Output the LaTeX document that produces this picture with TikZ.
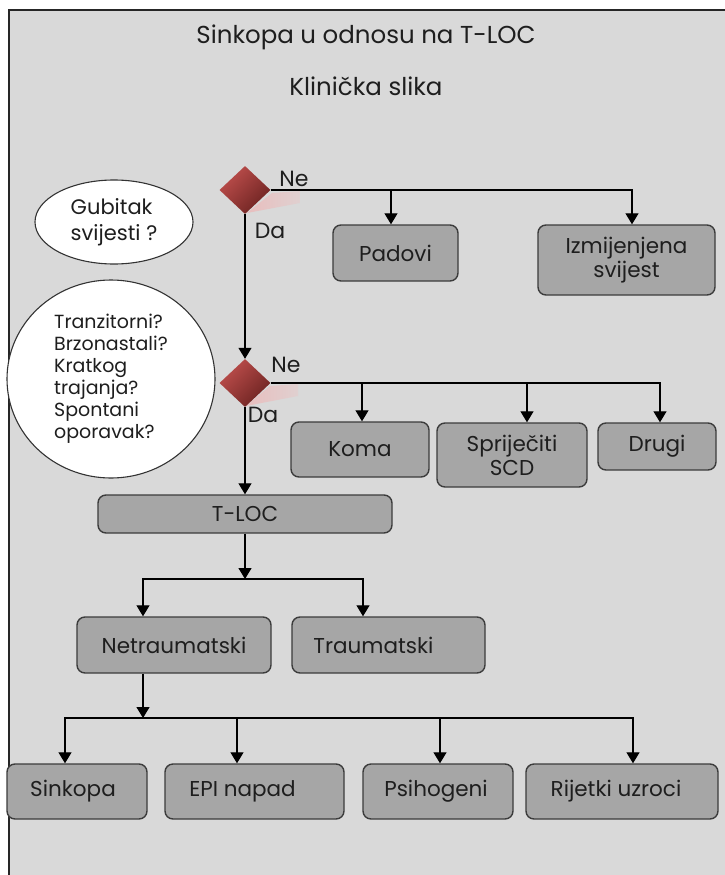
\documentclass[tikz,border=0pt]{standalone}
\usepackage{fontspec}
\setmainfont{Poppins}
\usetikzlibrary{shapes.geometric,arrows.meta,calc}

\definecolor{canvas}{HTML}{D9D9D9}
\definecolor{boxfill}{HTML}{A6A6A6}
\definecolor{boxline}{HTML}{3C3C3C}
\definecolor{ink}{HTML}{1E1E1E}
\definecolor{redlight}{HTML}{BE4E4C}
\definecolor{reddark}{HTML}{6C2321}
\definecolor{pinka}{HTML}{E8BEBE}
\definecolor{pinkb}{HTML}{E0D0D0}

\begin{document}
\begin{tikzpicture}[x=1pt,y=-1pt,
  frame/.style={draw=black!85, line width=1.6pt, fill=canvas},
  heading/.style={text=ink, font=\fontsize{24.5}{27}\selectfont},
  box/.style={draw=boxline, line width=1.4pt, fill=boxfill, rounded corners=8pt,
    inner sep=2pt, align=center, text=ink, font=\fontsize{21.5}{24}\selectfont},
  bubble/.style={ellipse, draw=black!80, line width=1.1pt, fill=white, inner sep=0pt,
    align=left, text=ink},
  decision/.style={diamond, draw=none, inner sep=0pt, minimum width=51pt, minimum height=48pt,
    top color=redlight, bottom color=reddark, shading angle=45},
  tag/.style={text=ink, inner sep=0pt, font=\fontsize{22}{24}\selectfont},
  flow/.style={draw=black, line width=1.3pt},
  arr/.style={flow, -{Triangle[width=13pt,length=11pt]}}
]
\useasboundingbox (0,0) rectangle (725,875);
\clip (0,0) rectangle (725,875);
\draw[frame] (9,10) rectangle (745,895);

% headings
\node[heading] (title) at (366,37) {Sinkopa u odnosu na T-LOC};
\node[heading] (sub) at (366,86) {Klinička slika};

% questions
\node[bubble, minimum width=158pt, minimum height=84pt, font=\fontsize{21}{26}\selectfont]
  (gub) at (114,222) {Gubitak\\svijesti ?};
\node[bubble, minimum width=208pt, minimum height=198pt, font=\fontsize{19}{22}\selectfont]
  (tlq) at (111,379) {Tranzitorni?\\Brzonastali?\\Kratkog\\trajanja?\\Spontani\\oporavak?};

% decision diamonds with their pale shadows
\shade[left color=pinka, right color=pinkb] (272,193) -- (300,191) -- (300,203) -- (247,213) -- cycle;
\shade[left color=pinka, right color=pinkb] (270,386) -- (298,384) -- (298,396) -- (246,406) -- cycle;
\node[decision] (d1) at (245,190) {};
\node[decision] (d2) at (245,383) {};
\node[tag] (ne1) at (294,179) {Ne};
\node[tag] (da1) at (270,231) {Da};
\node[tag] (ne2) at (286,365) {Ne};
\node[tag] (da2) at (263,415) {Da};

% outcome boxes
\node[box, minimum width=125pt, minimum height=56pt] (pad) at (395.5,253) {Padovi};
\node[box, minimum width=177pt, minimum height=70pt] (izm) at (626.5,260) {Izmijenjena\\svijest};
\node[box, minimum width=138pt, minimum height=55pt] (koma) at (360,449.5) {Koma};
\node[box, minimum width=150pt, minimum height=64pt] (spr) at (512,455) {Spriječiti\\SCD};
\node[box, minimum width=118pt, minimum height=47pt] (drugi) at (657,446.5) {Drugi};
\node[box, minimum width=294pt, minimum height=38pt] (tloc) at (245,514) {T-LOC};
\node[box, minimum width=194pt, minimum height=56pt] (netr) at (174,645) {Netraumatski};
\node[box, minimum width=193pt, minimum height=56pt] (traum) at (388.5,645) {Traumatski\hspace*{30pt}};
\node[box, minimum width=140pt, minimum height=55pt] (sink) at (77,791.5) {Sinkopa\hspace*{8pt}};
\node[box, minimum width=179pt, minimum height=55pt] (epi) at (254.5,791.5) {EPI napad\hspace*{24pt}};
\node[box, minimum width=150pt, minimum height=55pt] (psih) at (438,791.5) {Psihogeni\hspace*{4pt}};
\node[box, minimum width=192pt, minimum height=55pt] (rij) at (622,791.5) {Rijetki uzroci\hspace*{12pt}};

% first decision
\coordinate (padin) at ([xshift=-4.5pt]pad.north);
\coordinate (izmin) at ([xshift=5.5pt]izm.north);
\draw[arr] (d1.east) -| (izmin);
\draw[arr] (d1.east -| padin) -- (padin);
\draw[arr] (d1.south) -- (d2.north);

% second decision
\coordinate (komain) at ([xshift=2pt]koma.north);
\coordinate (sprin) at ([xshift=15pt]spr.north);
\coordinate (drugin) at ([xshift=3pt]drugi.north);
\draw[arr] (d2.east) -| (drugin);
\draw[arr] (d2.east -| komain) -- (komain);
\draw[arr] (d2.east -| sprin) -- (sprin);
\draw[arr] (d2.south) -- (tloc.north);

% T-LOC split
\coordinate (j3) at (245,579);
\coordinate (netrin) at ([xshift=-31pt]netr.north);
\coordinate (netrout) at ([xshift=-31pt]netr.south);
\coordinate (traumin) at ([xshift=-25.5pt]traum.north);
\draw[arr] (tloc.south) -- (j3);
\draw[arr] (j3) -| (netrin);
\draw[arr] (j3) -| (traumin);

% non-traumatic causes
\coordinate (j4) at (143,718);
\coordinate (sinkin) at ([xshift=-12pt]sink.north);
\coordinate (epiin) at ([xshift=-17.5pt]epi.north);
\coordinate (psihin) at ([xshift=2pt]psih.north);
\coordinate (rijin) at ([xshift=11pt]rij.north);
\draw[arr] (netrout) -- (j4);
\draw[arr] (j4) -| (sinkin);
\draw[arr] (j4) -| (rijin);
\draw[arr] (j4 -| epiin) -- (epiin);
\draw[arr] (j4 -| psihin) -- (psihin);
\end{tikzpicture}
\end{document}
